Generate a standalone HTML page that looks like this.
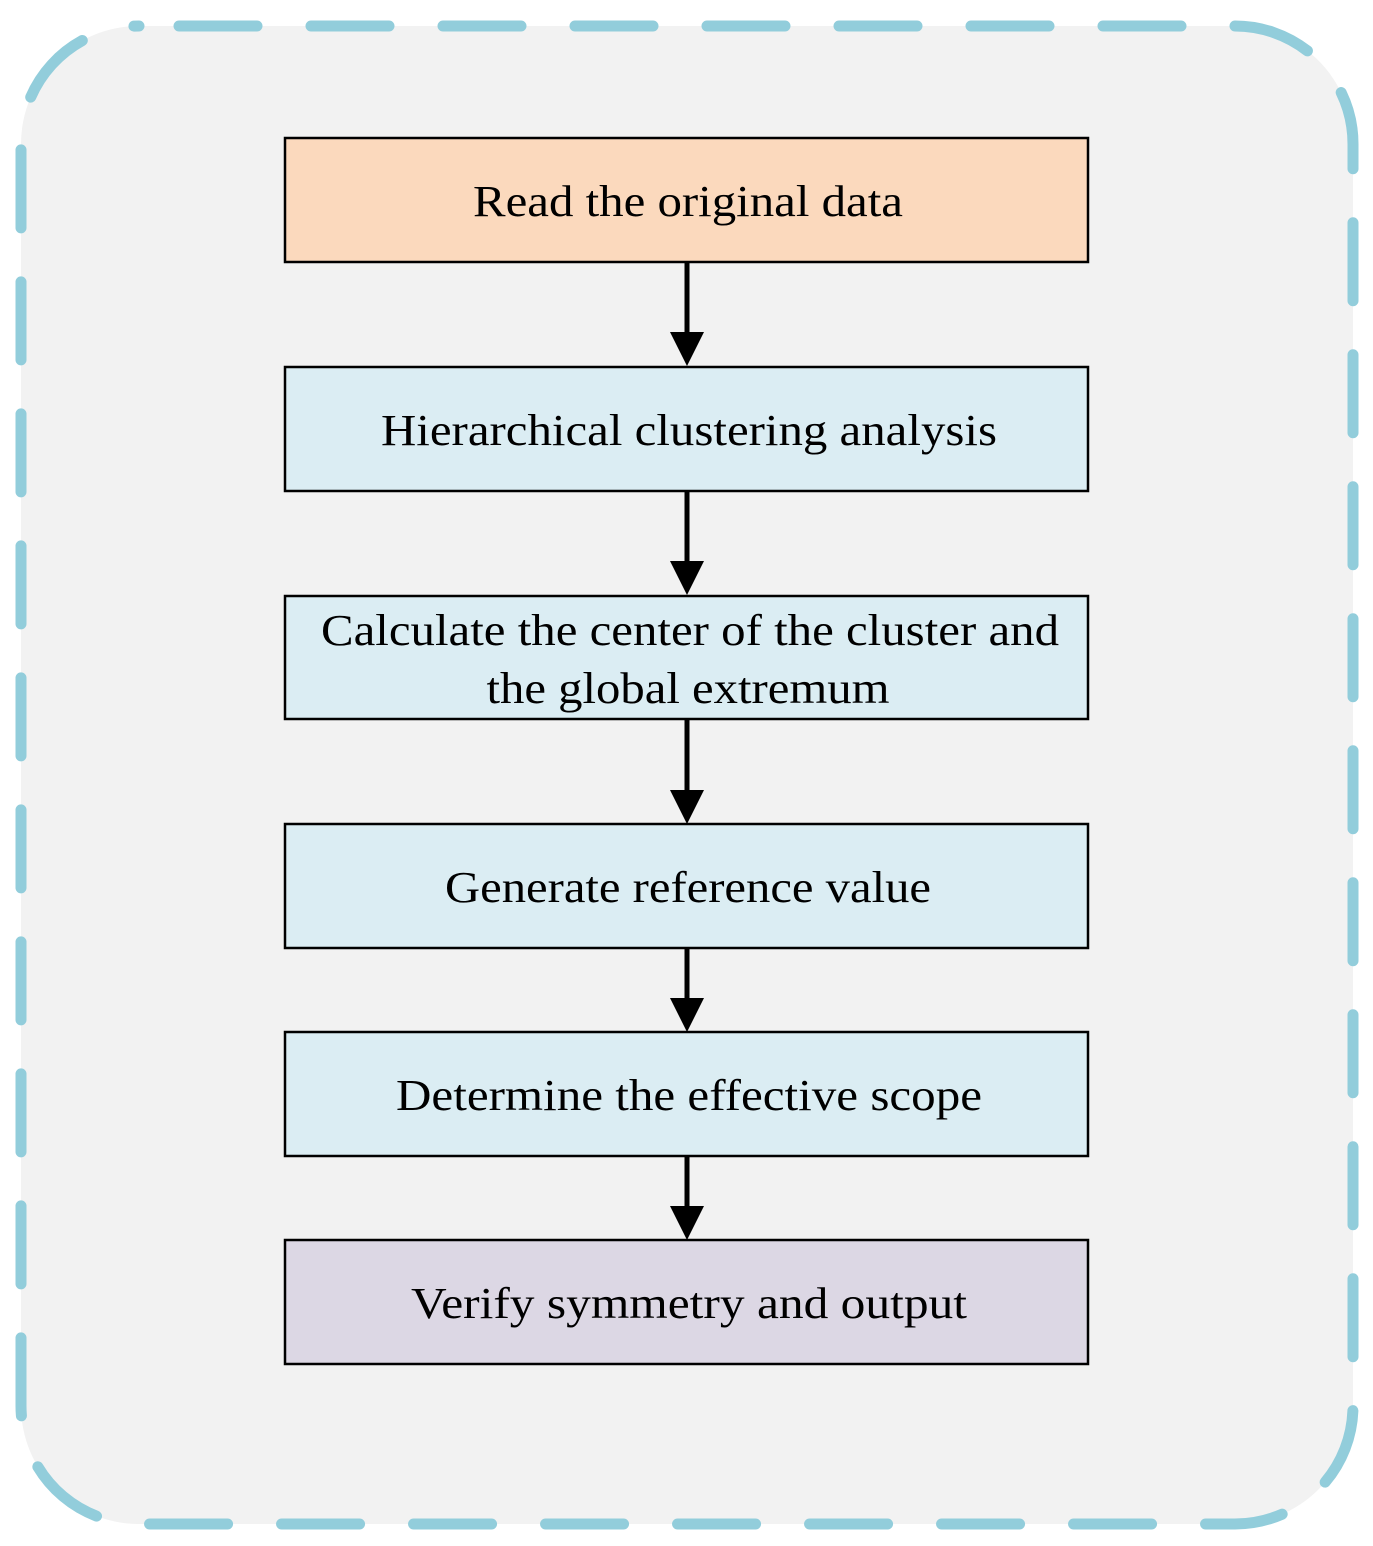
<!DOCTYPE html>
<html><head><meta charset="utf-8"><style>html,body{margin:0;padding:0;background:#fff}svg{display:block}</style></head>
<body>
<svg width="1373" height="1546" viewBox="0 0 1373 1546" xmlns="http://www.w3.org/2000/svg">
<rect x="21" y="26" width="1332" height="1498" rx="118" ry="118" fill="#f2f2f2" stroke="#92cddb" stroke-width="11" stroke-dasharray="78 54" stroke-linecap="round" stroke-dashoffset="-40"/>
<g stroke="#000" stroke-width="2.5">
<rect x="285" y="138" width="803" height="124" fill="#fbd9bd"/>
<rect x="285" y="367" width="803" height="124" fill="#dbedf3"/>
<rect x="285" y="596" width="803" height="123" fill="#dbedf3"/>
<rect x="285" y="824" width="803" height="124" fill="#dbedf3"/>
<rect x="285" y="1032" width="803" height="124" fill="#dbedf3"/>
<rect x="285" y="1240" width="803" height="124" fill="#dcd7e4"/>
</g>
<g stroke="#000" stroke-width="5">
<line x1="687" y1="262" x2="687" y2="340"/>
<line x1="687" y1="491" x2="687" y2="569"/>
<line x1="687" y1="719" x2="687" y2="797"/>
<line x1="687" y1="948" x2="687" y2="1005"/>
<line x1="687" y1="1156" x2="687" y2="1213"/>
</g>
<g fill="#000">
<polygon points="670,332 704,332 687,366"/>
<polygon points="670,561 704,561 687,595"/>
<polygon points="670,790 704,790 687,824"/>
<polygon points="670,998 704,998 687,1032"/>
<polygon points="670,1206 704,1206 687,1240"/>
</g>
<g font-family="Liberation Serif, serif" font-size="44" fill="#000" text-anchor="middle">
<text x="688" y="216" textLength="430" lengthAdjust="spacingAndGlyphs">Read the original data</text>
<text x="689" y="445" textLength="616" lengthAdjust="spacingAndGlyphs">Hierarchical clustering analysis</text>
<text x="690" y="645" textLength="738" lengthAdjust="spacingAndGlyphs">Calculate the center of the cluster and</text>
<text x="688" y="703" textLength="403" lengthAdjust="spacingAndGlyphs">the global extremum</text>
<text x="688" y="902" textLength="486" lengthAdjust="spacingAndGlyphs">Generate reference value</text>
<text x="689" y="1110" textLength="586" lengthAdjust="spacingAndGlyphs">Determine the effective scope</text>
<text x="689" y="1318" textLength="556" lengthAdjust="spacingAndGlyphs">Verify symmetry and output</text>
</g>
</svg>
</body></html>
